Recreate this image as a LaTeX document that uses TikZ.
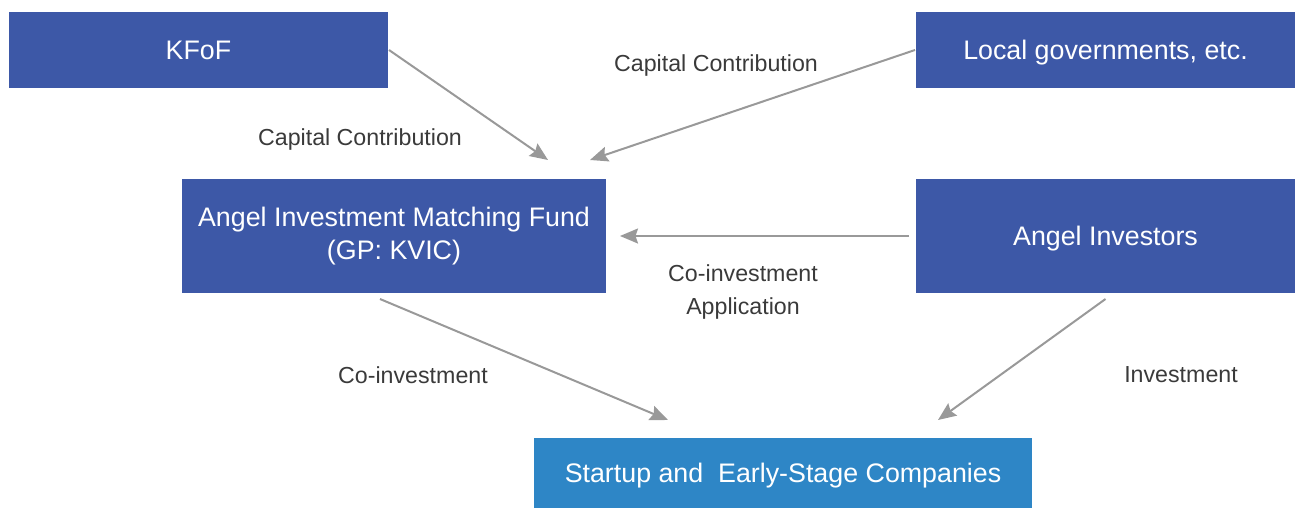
\documentclass[tikz,border=0pt]{standalone}
\usepackage{fontspec}
\setmainfont{Liberation Sans}
\usepackage{xcolor}
\usetikzlibrary{arrows.meta}
\usetikzlibrary{calc}
\usetikzlibrary{positioning}
\definecolor{fundblue}{HTML}{3D58A7}
\definecolor{startblue}{HTML}{2E86C6}
\definecolor{arrowgray}{HTML}{999999}
\definecolor{labelgray}{HTML}{3A3A3A}

\begin{document}
\begin{tikzpicture}[x=1pt,y=-1pt, line width=2pt]
 				 \tikzstyle{box}=[draw=none, rectangle, fill=fundblue, text=white, font=\fontsize{26.8}{33}\selectfont, align=center, inner sep=0pt, minimum height=76pt, minimum width=379pt]
 				 \tikzstyle{oneline}=[text height=19pt, text depth=0pt]
 				 \tikzstyle{lbl}=[text=labelgray, font=\fontsize{23.2}{33}\selectfont, align=center, inner sep=0pt]
 				 \tikzstyle{flow}=[draw=arrowgray, -{Stealth[length=18pt,width=15pt,inset=2.5pt]}]
 				 \useasboundingbox (0,0) rectangle (1295,508);
 					 \node[box,oneline] 			(KFoF) at (198.5,50)          		{KFoF};
  					 \node[box,oneline]         (LG) at (1105.5,50)  {Local governments, etc.};
  					 \node[box, minimum width=424pt, minimum height=114pt]   (AIMF) at (394,236) {Angel Investment Matching Fund\\(GP: KVIC)};
  					 \node[box,oneline, minimum height=114pt]         (AI) at (1105.5,236) 	{Angel Investors};
					\node[box,oneline, fill=startblue, minimum width=498pt, minimum height=70pt] (SU) at (783,473) {Startup and\ \ Early-Stage Companies};
					\coordinate (kIn) at (548,160);
					\coordinate (lIn) at (590,160);
					\coordinate (aIn) at (620,236);
					\coordinate (cIn) at (668,420);
					\coordinate (iIn) at (938,420);
 					  \path
 					 			(KFoF.east) edge[flow] (kIn)
 					 			(LG.west) edge[flow] (lIn)
 					 			([xshift=-6pt]AI.west) edge[flow] (aIn)
 					 			([xshift=-14pt,yshift=-5pt]AIMF.south) edge[flow] (cIn)
 					 			([yshift=-5pt]AI.south) edge[flow] (iIn);
 					 \node[lbl] (l1) at (360,140) {Capital Contribution};
 					 \node[lbl] (l2) at (716,66) {Capital Contribution};
 					 \node[lbl] (l3) at (743,292) {Co-investment\\Application};
 					 \node[lbl] (l4) at (413,375) {Co-investment};
 					 \node[lbl] (l5) at (1181,375) {Investment};
				\end{tikzpicture}
\end{document}
